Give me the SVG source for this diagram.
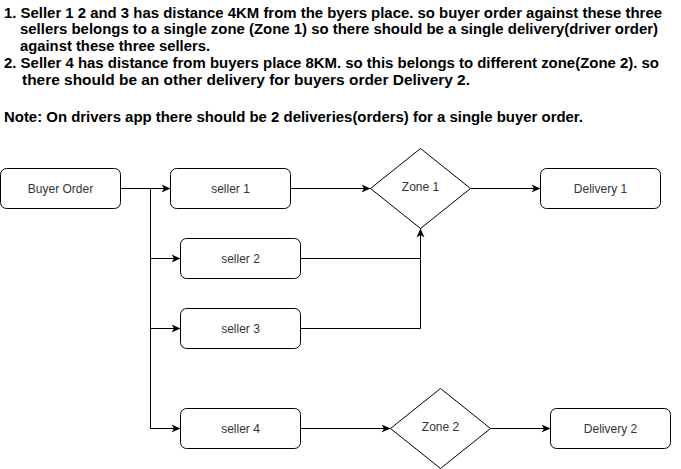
<svg xmlns="http://www.w3.org/2000/svg" width="681" height="469" viewBox="0 0 681 469">
<style>
.note{font-family:"Liberation Sans",Arial,sans-serif;font-weight:bold;font-size:14.5px;fill:#000}
.box{fill:#fff;stroke:#000;stroke-width:1}
.lbl{font-family:"Liberation Sans",Arial,sans-serif;font-size:12px;fill:#333;text-anchor:middle}
.edge{fill:none;stroke:#000;stroke-width:1}
</style>
<defs>
<marker id="arr" markerUnits="userSpaceOnUse" markerWidth="12" markerHeight="12" refX="9" refY="4.5" orient="auto">
<path d="M0,0.5 L9,4.5 L0,8.5 L2.5,4.5 z" fill="#000"/>
</marker>
</defs>
<rect width="681" height="469" fill="#fff"/>
<g id="notes">
<text class="note" x="4" y="17.5" textLength="658" lengthAdjust="spacingAndGlyphs">1. Seller 1 2 and 3 has distance 4KM from the byers place. so buyer order against these three</text>
<text class="note" x="20" y="34" textLength="638" lengthAdjust="spacingAndGlyphs">sellers belongs to a single zone (Zone 1) so there should be a single delivery(driver order)</text>
<text class="note" x="20" y="50.5" textLength="190" lengthAdjust="spacingAndGlyphs">against these three sellers.</text>
<text class="note" x="4" y="68" textLength="655" lengthAdjust="spacingAndGlyphs">2. Seller 4 has distance from buyers place 8KM. so this belongs to different zone(Zone 2). so</text>
<text class="note" x="22" y="85" textLength="448" lengthAdjust="spacingAndGlyphs">there should be an other delivery for buyers order Delivery 2.</text>
<text class="note" x="4" y="121.5" textLength="579" lengthAdjust="spacingAndGlyphs">Note: On drivers app there should be 2 deliveries(orders) for a single buyer order.</text>
</g>
<g id="connectors">
<path class="edge" d="M120.5,188.5 H170.5" marker-end="url(#arr)"/>
<path class="edge" d="M150.5,188.5 V258.5 H180.5" marker-end="url(#arr)"/>
<path class="edge" d="M150.5,258.5 V328.5 H180.5" marker-end="url(#arr)"/>
<path class="edge" d="M150.5,328.5 V428.5 H180.5" marker-end="url(#arr)"/>
<path class="edge" d="M290.5,188.5 H370.5" marker-end="url(#arr)"/>
<path class="edge" d="M300.5,258.5 H420.5 V228.5" marker-end="url(#arr)"/>
<path class="edge" d="M300.5,328.5 H420.5 V258.5"/>
<path class="edge" d="M470.5,188.5 H540.5" marker-end="url(#arr)"/>
<path class="edge" d="M300.5,428.5 H390.5" marker-end="url(#arr)"/>
<path class="edge" d="M490.5,428.5 H550.5" marker-end="url(#arr)"/>
</g>
<g id="buyer-order">
<rect class="box" x="0.5" y="168.5" width="120" height="40" rx="6"/>
<text class="lbl" x="60.5" y="192.5">Buyer Order</text>
</g>
<g id="seller-1">
<rect class="box" x="170.5" y="168.5" width="120" height="40" rx="6"/>
<text class="lbl" x="230.5" y="192.5">seller 1</text>
</g>
<g id="seller-2">
<rect class="box" x="180.5" y="238.5" width="120" height="40" rx="6"/>
<text class="lbl" x="240.5" y="262.5">seller 2</text>
</g>
<g id="seller-3">
<rect class="box" x="180.5" y="308.5" width="120" height="40" rx="6"/>
<text class="lbl" x="240.5" y="332.5">seller 3</text>
</g>
<g id="seller-4">
<rect class="box" x="180.5" y="408.5" width="120" height="40" rx="6"/>
<text class="lbl" x="240.5" y="432.5">seller 4</text>
</g>
<g id="zone-1">
<path class="box" d="M420.5,148.5 L470.5,188.5 L420.5,228.5 L370.5,188.5 Z"/>
<text class="lbl" x="420.5" y="190.5">Zone 1</text>
</g>
<g id="zone-2">
<path class="box" d="M440.5,388.5 L490.5,428.5 L440.5,468.5 L390.5,428.5 Z"/>
<text class="lbl" x="440.5" y="430.5">Zone 2</text>
</g>
<g id="delivery-1">
<rect class="box" x="540.5" y="168.5" width="120" height="40" rx="6"/>
<text class="lbl" x="600.5" y="192.5">Delivery 1</text>
</g>
<g id="delivery-2">
<rect class="box" x="550.5" y="408.5" width="120" height="40" rx="6"/>
<text class="lbl" x="610.5" y="432.5">Delivery 2</text>
</g>
</svg>
